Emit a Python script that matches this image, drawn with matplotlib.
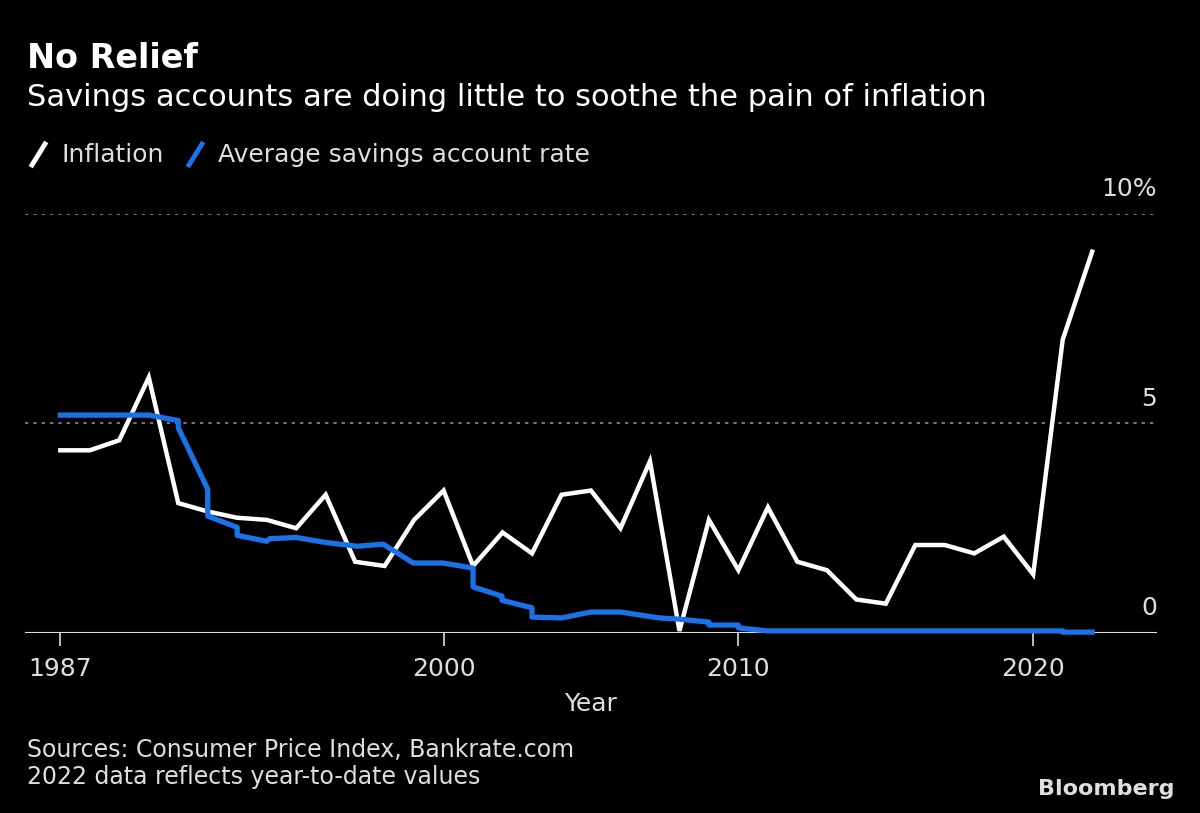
import matplotlib
matplotlib.use("Agg")
import matplotlib.pyplot as plt
from matplotlib.lines import Line2D

plt.rcParams['font.family'] = ['Liberation Sans Narrow', 'DejaVu Sans']

# inflation, one value per year
years = list(range(1987, 2023))
inflation = [4.36, 4.36, 4.6, 6.1, 3.1, 2.9, 2.75, 2.7, 2.5, 3.3, 1.7, 1.6, 2.7, 3.4,
             1.6, 2.4, 1.9, 3.3, 3.4, 2.5, 4.1, 0.05, 2.7, 1.5, 3.0, 1.7, 1.5, 0.8,
             0.7, 2.1, 2.1, 1.9, 2.3, 1.4, 7.0, 9.1]

# savings rate, stepped at the year boundaries
savings_x = [1987, 1990, 1991, 1991, 1992, 1992, 1993, 1993, 1994, 1994.1, 1995, 1996,
             1997.07, 1997.95, 1998.97, 1999.98, 2001, 2001, 2001.98, 2001.98, 2003, 2003,
             2004, 2005, 2006, 2007.3, 2008, 2009, 2009, 2010, 2010, 2011, 2021, 2021, 2022]
savings = [5.2, 5.2, 5.07, 4.9, 3.43, 2.79, 2.52, 2.33, 2.19, 2.25, 2.28, 2.16,
           2.07, 2.12, 1.67, 1.67, 1.55, 1.1, 0.88, 0.78, 0.6, 0.38,
           0.36, 0.5, 0.5, 0.36, 0.33, 0.26, 0.19, 0.19, 0.12, 0.05, 0.05, 0.02, 0.02]

xticks = [1987, 2000, 2010, 2020]
ygrid = [5, 10]
ylabels = ['5', '10%']

white = '#ffffff'
blue = '#1a72e8'
grey = '#8c8c8c'
light = '#dedede'

fig = plt.figure(figsize=(12, 8.13), dpi=100, facecolor='black')
ax = fig.add_axes([0.0208, 0.2214, 0.9434, 0.5154], facecolor='black')

ax.plot(years, inflation, color=white, lw=3.2, solid_joinstyle='miter', clip_on=False, zorder=3)
ax.plot(savings_x, savings, color=blue, lw=3.8, clip_on=False, zorder=4)

ax.set_xlim(1985.8, 2024.2)
ax.set_ylim(0, 10)

for v in ygrid:
    ax.axhline(v, color=grey, lw=1.2, ls=(0, (2, 3)), zorder=1)
ax.axhline(0, color=light, lw=1.5, zorder=2)

for v, lab in zip([0] + ygrid, ['0'] + ylabels):
    ax.text(1.0, v + 0.3, lab, transform=ax.get_yaxis_transform(), ha='right', va='bottom',
            color=light, fontsize=18)

for s in ax.spines.values():
    s.set_visible(False)
ax.set_yticks([])
ax.set_xticks(xticks)
ax.set_xticklabels([str(t) for t in xticks])
ax.tick_params(axis='x', colors=light, length=9, width=1.2, pad=8, labelsize=18)
ax.set_xlabel('Year', color=light, fontsize=18, labelpad=8)

fig.text(0.0225, 1 - 58 / 813, 'No Relief', color=white, fontsize=24, fontweight='bold', va='center')
fig.text(0.0225, 1 - 98 / 813, 'Savings accounts are doing little to soothe the pain of inflation',
         color=white, fontsize=22, va='center')

# legend
fig.add_artist(Line2D([32 / 1200, 45 / 1200], [1 - 165 / 813, 1 - 144 / 813], color=white, lw=3.5))
fig.text(62 / 1200, 1 - 155 / 813, 'Inflation', color=light, fontsize=18, va='center')
fig.add_artist(Line2D([189 / 1200, 202 / 1200], [1 - 165 / 813, 1 - 144 / 813], color=blue, lw=3.5))
fig.text(218 / 1200, 1 - 155 / 813, 'Average savings account rate', color=light, fontsize=18, va='center')

fig.text(0.0225, 1 - 750 / 813, 'Sources: Consumer Price Index, Bankrate.com', color=light,
         fontsize=17, va='center')
fig.text(0.0225, 1 - 777 / 813, '2022 data reflects year-to-date values', color=light,
         fontsize=17, va='center')
fig.text(1175 / 1200, 1 - 789 / 813, 'Bloomberg', color=light, fontsize=16, fontweight='bold',
         ha='right', va='center')

fig.savefig('out.png', dpi=100, facecolor='black')
